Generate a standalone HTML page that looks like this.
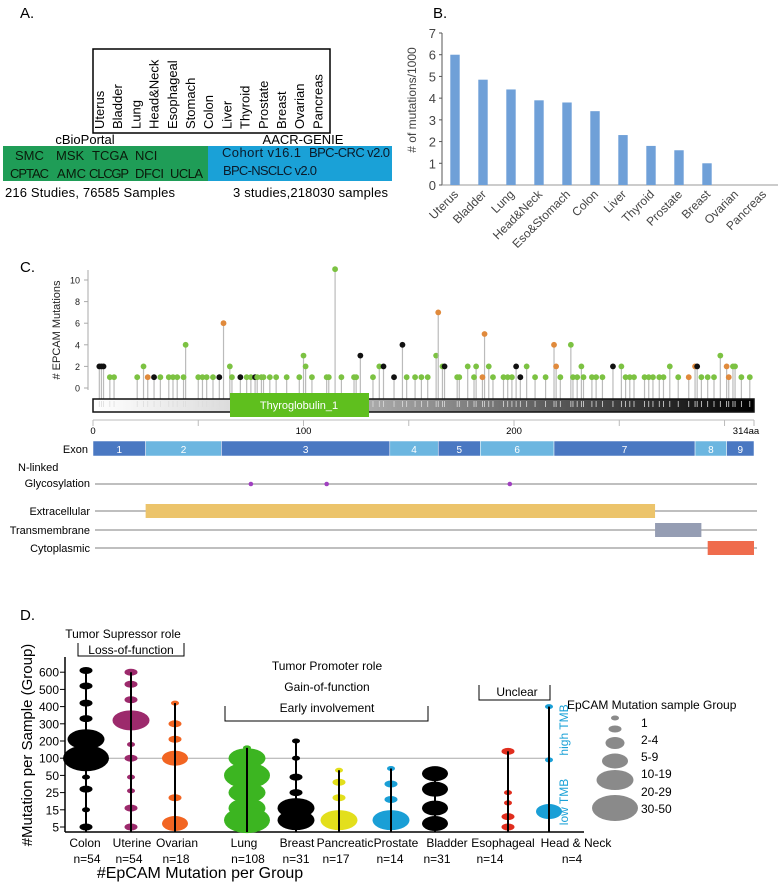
<!DOCTYPE html>
<html><head><meta charset="utf-8"><style>
body{margin:0;background:#fff}
svg{display:block;font-family:"Liberation Sans",sans-serif}
</style></head><body>
<svg id="s" width="778" height="883" viewBox="0 0 778 883">
<!-- Panel A -->
<g font-size="13">
<text x="20" y="18" font-size="15">A.</text>
<rect x="93" y="49" width="237" height="84" fill="none" stroke="#000" stroke-width="1.5"/>
<g id="alabels"></g>
<text x="85" y="144" text-anchor="middle">cBioPortal</text>
<text x="303" y="144" text-anchor="middle">AACR-GENIE</text>
<rect x="3" y="146" width="205" height="35" fill="#1f9d57"/>
<rect x="208" y="146" width="184" height="35" fill="#1aa1d7"/>
<g fill="#0a1a0a">
<text x="15" y="160">SMC</text><text x="56" y="160">MSK</text><text x="92" y="160">TCGA</text><text x="135" y="160">NCI</text>
<text x="10" y="178" textLength="39">CPTAC</text><text x="57" y="178" textLength="29">AMC</text><text x="89" y="178" textLength="40">CLCGP</text><text x="135" y="178" textLength="29">DFCI</text><text x="170" y="178" textLength="33">UCLA</text>
</g>
<g fill="#0a1a2a">
<text x="222" y="157" textLength="79">Cohort v16.1</text><text x="309" y="157" textLength="81">BPC-CRC v2.0</text>
<text x="223" y="175" textLength="94">BPC-NSCLC v2.0</text>
</g>
<text x="5" y="197" textLength="170">216 Studies, 76585 Samples</text>
<text x="233" y="197" textLength="155">3 studies,218030 samples</text>
</g>
<!-- Panel B -->
<g id="pb">
<text x="433" y="18" font-size="15">B.</text>
<text transform="translate(416,100) rotate(-90)" text-anchor="middle" font-size="12" fill="#444"># of mutations/1000</text>
</g>
<!-- Panel C -->
<g id="pc">
<text x="20" y="272" font-size="15">C.</text>
<text transform="translate(60,330) rotate(-90)" text-anchor="middle" font-size="11" fill="#222"># EPCAM Mutations</text>
</g>
<!-- Panel D -->
<g id="pd">
<text x="20" y="620" font-size="15">D.</text>
<text transform="translate(32,745) rotate(-90)" text-anchor="middle" font-size="15">#Mutation per Sample (Group)</text>
<text x="200" y="878" text-anchor="middle" font-size="16">#EpCAM Mutation per Group</text>
<text x="123" y="638" text-anchor="middle" font-size="12">Tumor Supressor role</text>
<path d="M78 643V656H184V643" fill="none" stroke="#000"/>
<text x="131" y="654" text-anchor="middle" font-size="12">Loss-of-function</text>
<text x="327" y="670" text-anchor="middle" font-size="12">Tumor Promoter role</text>
<text x="327" y="691" text-anchor="middle" font-size="12">Gain-of-function</text>
<text x="327" y="712" text-anchor="middle" font-size="12">Early involvement</text>
<path d="M225 706V721H428V706" fill="none" stroke="#000"/>
<path d="M479 685V700H550V685" fill="none" stroke="#000"/>
<text x="517" y="696" text-anchor="middle" font-size="12">Unclear</text>
<text transform="translate(568,730) rotate(-90)" text-anchor="middle" font-size="12" fill="#1aa1d7">high TMB</text>
<text transform="translate(568,802) rotate(-90)" text-anchor="middle" font-size="12" fill="#1aa1d7">low TMB</text>
<text x="567" y="709" font-size="12">EpCAM Mutation sample Group</text>
</g>
</svg>
<script>
const NS="http://www.w3.org/2000/svg";
function mk(p,t,a,txt){const e=document.createElementNS(NS,t);for(const k in a)e.setAttribute(k,a[k]);if(txt!==undefined)e.textContent=txt;p.appendChild(e);return e;}

// Panel A data
const aTypes=["Uterus","Bladder","Lung","Head&Neck","Esophageal","Stomach","Colon","Liver","Thyroid","Prostate","Breast","Ovarian","Pancreas"];
// Panel B data
const bCats=["Uterus","Bladder","Lung","Head&Neck","Eso&Stomach","Colon","Liver","Thyroid","Prostate","Breast","Ovarian","Pancreas"];
const bVals=[6.0,4.85,4.4,3.9,3.8,3.4,2.3,1.8,1.6,1.0,0,0];
const bTicks=[0,1,2,3,4,5,6,7];
// Panel C data (residue, count, type)
const cRes=[3,4,5,24,44,62,65,100,101,115,
127,136,138,147,163,164,166,167,178,182,
186,188,201,206,219,220,227,232,247,251,
274,286,287,298,301,304,305,
8,10,21,26,29,32,36,38,40,43,
50,52,54,57,60,66,70,73,75,77,
78,80,81,84,87,92,98,104,111,112,
118,124,125,133,143,149,153,156,159,173,
174,181,185,190,195,197,199,203,210,215,
222,228,230,233,237,239,242,253,255,257,
262,264,266,269,271,278,283,289,292,295,
302,308,312];
const cCount=[2,2,2,2,4,6,2,3,2,11,
3,2,2,4,3,7,2,2,2,2,
5,2,2,2,4,2,4,2,2,2,
2,2,2,3,2,2,2,
1,1,1,1,1,1,1,1,1,1,
1,1,1,1,1,1,1,1,1,1,
1,1,1,1,1,1,1,1,1,1,
1,1,1,1,1,1,1,1,1,1,
1,1,1,1,1,1,1,1,1,1,
1,1,1,1,1,1,1,1,1,1,
1,1,1,1,1,1,1,1,1,1,
1,1,1];
const cType=["b","b","b","g","g","o","g","g","g","g",
"b","g","b","b","g","o","g","b","g","g",
"o","g","b","g","o","o","g","g","b","g",
"g","o","b","g","o","g","g",
"g","g","g","o","b","g","g","g","g","g",
"g","g","g","g","b","g","b","g","g","b",
"g","g","g","g","g","g","g","g","g","g",
"g","g","g","g","b","g","g","g","g","g",
"g","g","o","g","g","g","g","b","g","g",
"g","g","g","g","g","g","g","g","g","g",
"g","g","g","g","g","g","o","g","g","g",
"o","g","g"];
const cTicks=[0,2,4,6,8,10];
const exonStart=[0,25,61,141,164,184,219,286,301];
const exonEnd=[25,61,141,164,184,219,286,301,314];
const glycoSites=[75,111,198];
const domStart=[25,267,292];
const domEnd=[267,289,314];
// Panel D data
const dGroups=["Colon","Uterine","Ovarian","Lung","Breast","Pancreatic","Prostate","Bladder","Esophageal","Head & Neck"];
const dN=["n=54","n=54","n=18","n=108","n=31","n=17","n=14","n=31","n=14","n=4"];
const dColors=["#000","#9c2a6c","#f26522","#3cb521","#000","#e3df1c","#1a9fd6","#000","#e02e1e","#1a9fd6"];
const dLevels=[[9.1,8.2,7.2,6.3,5.1,4.0,2.9,2.2,1.0,0],[9.0,8.3,7.4,6.2,4.8,4.0,2.9,2.1,1.1,0],[7.2,6.0,5.1,4.0,1.7,0.2],[4.6,4.0,3.0,2.0,1.1,0.4],[5.0,4.0,2.9,2.0,1.1,0.4],[3.3,2.6,1.7,0.4],[3.4,2.5,1.6,0.4],[3.1,2.2,1.1,0.2],[4.4,2.0,1.4,0.6,0],[7.0,3.9,0.9]];
const dSizes=[[1,1,1,1,4,5,0,1,0,1],[1,1,1,4,0,1,0,0,1,1],[0,1,1,3,1,3],[0,4,5,4,4,5],[0,0,1,1,4,4],[0,1,1,4],[0,1,1,4],[3,3,3,3],[1,0,0,1,1],[0,0,3]];
const dTicks=["5","15","25","50","100","200","300","400","500","600"];
const sizeLabels=["1","2-4","5-9","10-19","20-29","30-50"];

// ---- Panel A
const ga=document.getElementById('alabels');
aTypes.forEach((t,i)=>{const x=104+i*18.2;
 const e=mk(ga,'text',{transform:`translate(${x},129) rotate(-90)`,'font-size':'13'},t);
 
 });

// ---- Panel B
const pb=document.getElementById('pb');
const bx0=442,bx1=778,by0=185,by1=33;
const bY=v=>by0-(v/7)*(by0-by1);
const bX=i=>455+i*28;
let ax=mk(pb,'line',{x1:bx0,y1:by1,x2:bx0,y2:by0,stroke:'#555'});

ax=mk(pb,'line',{x1:bx0,y1:by0,x2:bx1,y2:by0,stroke:'#999'});

bTicks.forEach(t=>{mk(pb,'line',{x1:bx0-3,y1:bY(t),x2:bx0,y2:bY(t),stroke:'#555'});
 const e=mk(pb,'text',{x:bx0-6,y:bY(t)+5,'text-anchor':'end','font-size':'13',fill:'#444'},t);
 });
bCats.forEach((c,i)=>{const v=bVals[i];
 const r=mk(pb,'rect',{x:bX(i)-4.7,y:bY(v),width:9.4,height:by0-bY(v),fill:'#6fa0d8'});
 
 
 const e=mk(pb,'text',{transform:`translate(${bX(i)+4},195) rotate(-45)`,'text-anchor':'end','font-size':'12',fill:'#444'},c);
 });

// ---- Panel C
const pc=document.getElementById('pc');
const cX=r=>93+r*(754-93)/314;
const cY=v=>388-v*10.8;
ax=mk(pc,'line',{x1:88,y1:270,x2:88,y2:390,stroke:'#aaa'});

cTicks.forEach(t=>{mk(pc,'line',{x1:84,y1:cY(t),x2:88,y2:cY(t),stroke:'#aaa'});
 const e=mk(pc,'text',{x:80,y:cY(t)+3.5,'text-anchor':'end','font-size':'9',fill:'#222'},t);
 });
const colC={g:'#7cc242',o:'#e08a3c',b:'#111'};
const nC=Math.min(cRes.length,cCount.length,cType.length);
for(let i=0;i<nC;i++){const x=cX(cRes[i]),y=cY(cCount[i]);
 const l=mk(pc,'line',{x1:x,y1:399,x2:x,y2:y,stroke:'#bbb','stroke-width':1.2});
 
 const d=mk(pc,'circle',{cx:x,cy:y,r:2.9,fill:colC[cType[i]]});
 }
const defs=mk(pc,'defs',{});
const lg=mk(defs,'linearGradient',{id:'pg'});
mk(lg,'stop',{offset:'0','stop-color':'#fff'});mk(lg,'stop',{offset:'0.3','stop-color':'#ccc'});mk(lg,'stop',{offset:'0.6','stop-color':'#777'});mk(lg,'stop',{offset:'1','stop-color':'#000'});
const pbar=mk(pc,'rect',{x:93,y:399,width:661,height:13,fill:'url(#pg)',stroke:'#111','stroke-width':1.5});

cRes.forEach(r=>{mk(pc,'line',{x1:cX(r),y1:401,x2:cX(r),y2:407,stroke:'#ddd','stroke-width':0.8});});
const tg=mk(pc,'rect',{x:230,y:393,width:139,height:24,fill:'#5fbf1e'});

const tgt=mk(pc,'text',{x:299,y:409,'text-anchor':'middle','font-size':'11',fill:'#fff'},'Thyroglobulin_1');

mk(pc,'line',{x1:93,y1:420,x2:754,y2:420,stroke:'#bbb'});
[0,50,100,150,200,250,300,314].forEach(t=>mk(pc,'line',{x1:cX(t),y1:420,x2:cX(t),y2:426,stroke:'#bbb'}));
[[0,'0'],[100,'100'],[200,'200'],[314,'314aa']].forEach(([t,s])=>{const e=mk(pc,'text',{x:cX(t)+(t==314?-8:0),y:434,'text-anchor':'middle','font-size':'9.5'},s);
 });
const ex=mk(pc,'text',{x:88,y:453,'text-anchor':'end','font-size':'11'},'Exon');

exonStart.forEach((s,i)=>{const r=mk(pc,'rect',{x:cX(s),y:441,width:cX(exonEnd[i])-cX(s),height:15,fill:i%2?'#6cb6e0':'#4a78c2',stroke:'#fff','stroke-width':0.5});
 
 mk(pc,'text',{x:(cX(s)+cX(exonEnd[i]))/2,y:453,'text-anchor':'middle','font-size':'10',fill:'#fff'},String(i+1));});
mk(pc,'text',{x:18,y:471,'font-size':'11'},'N-linked');
mk(pc,'text',{x:90,y:487,'text-anchor':'end','font-size':'11'},'Glycosylation');
mk(pc,'line',{x1:95,y1:484,x2:757,y2:484,stroke:'#999','stroke-width':1.2});
glycoSites.forEach(g=>{const c=mk(pc,'circle',{cx:cX(g),cy:484,r:2.3,fill:'#a040c0'});
 });
const domNames=['Extracellular','Transmembrane','Cytoplasmic'];
const domY=[511,530,548],domC=['#ecc46b','#959db3','#ef6c4d'];
domNames.forEach((n,i)=>{const t=mk(pc,'text',{x:90,y:domY[i]+4,'text-anchor':'end','font-size':'11'},n);
 
 mk(pc,'line',{x1:95,y1:domY[i],x2:757,y2:domY[i],stroke:'#999','stroke-width':1.2});
 const r=mk(pc,'rect',{x:cX(domStart[i]),y:domY[i]-7,width:cX(domEnd[i])-cX(domStart[i]),height:14,fill:domC[i]});
 });

// ---- Panel D
const pd=document.getElementById('pd');
const dY=l=>827-l*17.2;
const dXs=[86,131,175,247,296,339,391,435,508,549];
const labX=[85,132,177,244,297,345,396,447,503,576];
const nX=[87,129,176,248,296,336,390,437,490,572];
const sw=[8,13,19,26,37,46],sh=[5,7,12,15,20,26];
mk(pd,'line',{x1:65,y1:dY(4),x2:550,y2:dY(4),stroke:'#aaa'});
ax=mk(pd,'line',{x1:65,y1:657,x2:65,y2:832,stroke:'#000','stroke-width':1.5});

ax=mk(pd,'line',{x1:65,y1:832,x2:584,y2:832,stroke:'#000','stroke-width':1.5});

dTicks.forEach((t,i)=>{mk(pd,'line',{x1:60,y1:dY(i),x2:65,y2:dY(i),stroke:'#000'});
 const e=mk(pd,'text',{x:59,y:dY(i)+4.5,'text-anchor':'end','font-size':'12'},t);
 });
dGroups.forEach((g,gi)=>{const x=dXs[gi],lv=dLevels[gi];
 const top=Math.max(...lv);
 lv.forEach((l,j)=>{const s=dSizes[gi][j];
  const e=mk(pd,'ellipse',{cx:x,cy:dY(l),rx:sw[s]/2,ry:sh[s]/2,fill:dColors[gi]});
  
  });
 const ln=mk(pd,'line',{x1:x,y1:dY(top),x2:x,y2:832,stroke:'#000','stroke-width':2});
 
 const t=mk(pd,'text',{x:labX[gi],y:847,'text-anchor':'middle','font-size':'12'},g);
 
 const n=mk(pd,'text',{x:nX[gi],y:863,'text-anchor':'middle','font-size':'12'},dN[gi]);
 });
const lgY=[718,729,743,761,780,808],lgTY=[727,744,761,778,796,813];
sizeLabels.forEach((s,i)=>{const e=mk(pd,'ellipse',{cx:615,cy:lgY[i],rx:sw[i]/2,ry:sh[i]/2,fill:'#8a8a8a'});
 
 const t=mk(pd,'text',{x:641,y:lgTY[i],'font-size':'12'},s);
 });
</script>
</body></html>
